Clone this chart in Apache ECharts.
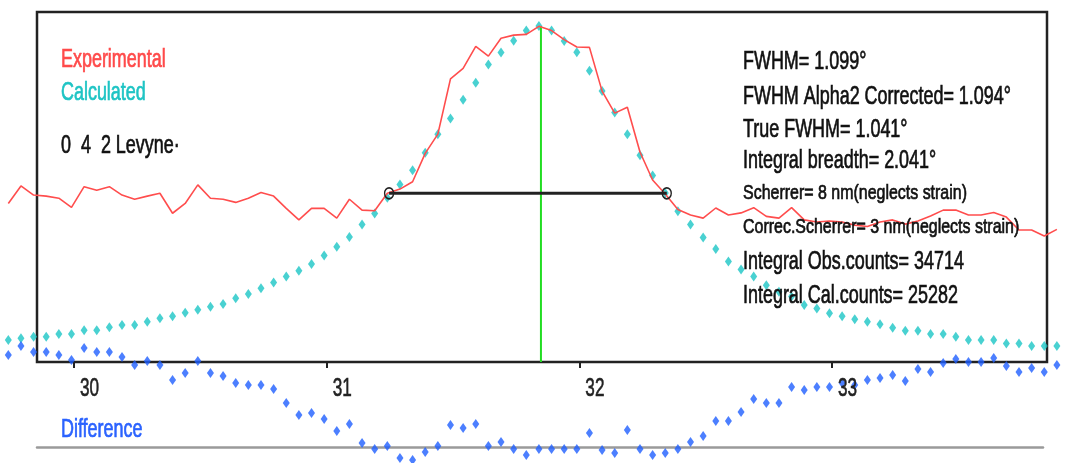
<!DOCTYPE html>
<html>
<head>
<meta charset="utf-8">
<script src="https://cdn.jsdelivr.net/npm/echarts@6/dist/echarts.min.js"></script>
<style>
html,body{margin:0;padding:0;background:#fff;}
#chart{width:1065px;height:463px;}
</style>
</head>
<body>
<div id="chart"></div>
<script>
// 2-theta sampling positions (degrees)
const twoTheta = [29.74,29.79,29.84,29.89,29.94,29.99,30.04,30.09,30.14,30.19,30.24,30.29,30.34,30.39,30.44,30.49,30.54,30.59,30.64,30.69,30.74,30.79,30.84,30.89,30.94,30.99,31.04,31.09,31.14,31.19,31.24,31.29,31.34,31.39,31.44,31.49,31.54,31.59,31.64,31.69,31.74,31.79,31.84,31.89,31.94,31.99,32.04,32.09,32.14,32.19,32.24,32.29,32.34,32.39,32.44,32.49,32.54,32.59,32.64,32.69,32.74,32.79,32.84,32.89,32.94,32.99,33.04,33.09,33.14,33.19,33.24,33.29,33.34,33.39,33.44,33.49,33.54,33.59,33.64,33.69,33.74,33.79,33.84,33.89];
// Experimental intensity (relative)
const observed = [45.3,50.3,47.7,47.4,46.8,44.2,50.1,49.1,50.1,47.7,46.5,47.4,48.2,42.5,45.3,50.6,46.8,46.5,45.6,46.8,48.4,47.4,43.9,40.6,43.9,43.9,41.1,46.5,43.4,43.2,48.2,49.4,51.5,59.6,65.1,80.9,83.9,90.2,87.4,92.5,93.4,93.6,95.9,94.7,92.1,90.0,89.9,77.4,71.1,72.8,60.0,52.0,48.0,43.6,42.0,41.1,44.0,42.0,42.6,44.1,41.6,41.1,44.1,40.6,40.0,40.3,40.0,39.1,38.7,40.0,40.6,39.4,40.3,41.7,43.4,43.4,42.0,42.0,42.7,41.4,37.7,37.7,36.0,37.9];
// Calculated intensity (relative)
const calculated = [6.3,6.8,7.2,7.2,8.0,8.0,9.1,9.1,9.9,10.6,10.6,11.5,12.5,13.1,14.1,14.9,15.8,16.6,18.2,19.4,21.1,22.7,24.4,26.1,28.0,30.4,32.9,35.7,39.3,42.4,46.9,50.7,54.8,59.8,65.1,69.6,74.9,79.8,85.0,88.4,91.8,94.7,96.0,94.7,91.7,88.5,83.2,77.4,71.3,65.1,59.1,53.3,48.3,43.1,39.3,35.6,32.3,28.7,26.4,24.4,21.9,20.1,18.7,16.3,15.3,13.9,13.1,12.2,11.5,10.8,9.8,8.9,8.9,8.0,8.0,7.2,6.3,6.3,6.3,5.3,5.3,4.6,4.6,4.6];
// Difference curve (relative)
const difference = [92,101,95,95,92,87,99,95,95,90,82,86,82,67,74,86,74,71,64,62,62,58,44,32,34,28,16,23,4,-2,1,-11,-13,-5,1,22,19,23,1,5,-2,-8,-2,-2,-2,-2,14,-3,-6,17,-2,-8,-6,-2,5,11,26,26,35,48,44,44,60,57,60,60,64,62,67,69,72,66,78,75,84,88,85,85,89,81,75,79,75,82];
// Axis tick labels
const tickValues = [30, 31, 32, 33];
// Peak / FWHM markers
const peakPos = 31.848;
const peakTop = 96;
const fwhmLeft = 31.247;
const fwhmRight = 32.346;
const halfMax = 48.2;
// Annotation texts
const leftTexts = ['Experimental', 'Calculated', '0  4  2 Levyne·'];
const rightTexts = ['FWHM= 1.099°', 'FWHM Alpha2 Corrected= 1.094°', 'True FWHM= 1.041°', 'Integral breadth= 2.041°', 'Scherrer= 8 nm(neglects strain)', 'Correc.Scherrer= 3 nm(neglects strain)', 'Integral Obs.counts= 34714', 'Integral Cal.counts= 25282'];
const diffLabel = 'Difference';

const zip = (a, b) => a.map((v, i) => [v, b[i]]);

const FONT = "'Liberation Sans', Arial, sans-serif";
function txt(text, x, y, color, size, sx) {
  return {
    type: 'text', x: x, y: y, scaleX: sx, scaleY: 1, z: 20,
    style: {
      text: text, x: 0, y: 0, fill: color,
      stroke: color, lineWidth: 0.7,
      font: size + 'px ' + FONT,
      align: 'left', verticalAlign: 'middle',
      textAlign: 'left', textVerticalAlign: 'middle'
    }
  };
}

const rightY = [61.5, 96.7, 130, 161, 193, 227, 262, 296];
const rightSize = [26, 26, 26, 26, 21, 21, 26, 26];
const rightScale = [0.69, 0.69, 0.69, 0.69, 0.76, 0.76, 0.69, 0.69];

const graphics = [
  txt(leftTexts[0], 61, 60, '#ff4a4a', 26, 0.69),
  txt(leftTexts[1], 61, 93, '#1ec4c4', 26, 0.69),
  txt(leftTexts[2], 61, 145.5, '#111', 26, 0.69),
  txt(diffLabel, 61, 430, '#2a62ff', 26, 0.69)
];
rightTexts.forEach((t, i) => graphics.push(txt(t, 743, rightY[i], '#111', rightSize[i], rightScale[i])));

// data x-range spans the full canvas width; the framed box is a separate grid
const X_MIN = 29.7071, X_MAX = 33.9221;

const chart = echarts.init(document.getElementById('chart'), null, {renderer: 'canvas'});
chart.setOption({
  animation: false,
  backgroundColor: '#fff',
  grid: [
    {left: 0, right: 0, top: 12, height: 350, show: false},
    {left: 0, right: 0, top: 337, height: 126, show: false},
    {left: 37, right: 18, top: 12, height: 350, show: true, borderColor: '#222', borderWidth: 2.5, backgroundColor: 'transparent'},
    {left: 37, right: 22, top: 12, height: 435, show: false}
  ],
  xAxis: [
    {
      type: 'value', gridIndex: 0, min: X_MIN, max: X_MAX,
      splitLine: {show: false},
      axisLine: {show: false},
      axisTick: {show: true, customValues: tickValues, length: 6, lineStyle: {color: '#222', width: 2}},
      axisLabel: {show: false}
    },
    {type: 'value', gridIndex: 1, min: X_MIN, max: X_MAX, show: false},
    {type: 'value', gridIndex: 2, min: 0, max: 1, show: false},
    {
      type: 'value', gridIndex: 3, min: 0, max: 1, position: 'bottom',
      splitLine: {show: false},
      axisLine: {show: true, onZero: false, lineStyle: {color: '#9a9a9a', width: 2.5}},
      axisTick: {show: false}, axisLabel: {show: false}
    }
  ],
  yAxis: [
    {type: 'value', gridIndex: 0, min: 0, max: 100, show: false},
    {type: 'value', gridIndex: 1, min: -16, max: 110, show: false},
    {type: 'value', gridIndex: 2, min: 0, max: 1, show: false},
    {type: 'value', gridIndex: 3, min: 0, max: 1, show: false}
  ],
  graphic: graphics,
  series: [
    {
      name: 'Calculated', type: 'scatter', xAxisIndex: 0, yAxisIndex: 0,
      data: zip(twoTheta, calculated), symbol: 'diamond', symbolSize: [7, 10],
      itemStyle: {color: '#1cc6c6'}, clip: false, z: 2
    },
    {
      name: 'Peak', type: 'line', xAxisIndex: 0, yAxisIndex: 0,
      data: [[peakPos, 0], [peakPos, peakTop]], showSymbol: false,
      lineStyle: {color: '#22dd22', width: 2}, clip: false, z: 3
    },
    {
      name: 'Experimental', type: 'line', xAxisIndex: 0, yAxisIndex: 0,
      data: zip(twoTheta, observed), showSymbol: false,
      lineStyle: {color: '#ff4d4d', width: 1.6}, clip: false, z: 4
    },
    {
      name: 'FWHM', type: 'line', xAxisIndex: 0, yAxisIndex: 0,
      data: [[fwhmLeft, halfMax], [fwhmRight, halfMax]],
      symbol: 'circle', symbolSize: [9, 11], showSymbol: true,
      itemStyle: {color: 'rgba(0,0,0,0)', borderColor: '#222', borderWidth: 1.5},
      lineStyle: {color: '#222', width: 3}, clip: false, z: 5
    },
    {
      name: 'Difference', type: 'scatter', xAxisIndex: 1, yAxisIndex: 1,
      data: zip(twoTheta, difference), symbol: 'diamond', symbolSize: [7, 10],
      itemStyle: {color: '#1f5fff'}, clip: false, z: 2
    },
    {
      name: 'TickLabels', type: 'custom', xAxisIndex: 0, yAxisIndex: 0,
      data: tickValues.map(v => [v, 0]), clip: false, z: 6, silent: true,
      renderItem: function (params, api) {
        const p = api.coord([api.value(0), api.value(1)]);
        return {
          type: 'text', x: p[0] + 6, y: p[1] + 27, scaleX: 0.66,
          style: {
            text: String(api.value(0)), fill: '#222', stroke: '#222', lineWidth: 0.6,
            font: '26px ' + FONT,
            align: 'left', verticalAlign: 'middle', textAlign: 'left', textVerticalAlign: 'middle'
          }
        };
      }
    }
  ]
});
</script>
</body>
</html>
